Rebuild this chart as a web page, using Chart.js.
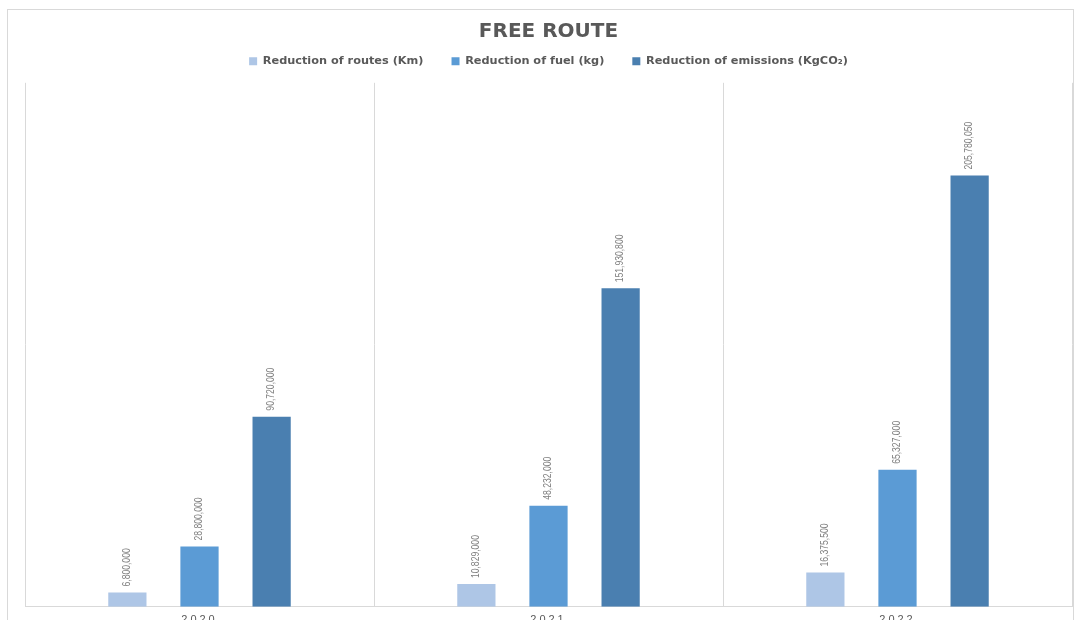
<!DOCTYPE html>
<html>
<head>
<meta charset="utf-8">
<script src="https://cdn.jsdelivr.net/npm/chart.js@4"></script>
<style>
  html, body { margin: 0; padding: 0; background: #fff; overflow: hidden; }
  #box { position: absolute; left: 7px; top: 9px; width: 1065px; height: 640px; border: 1px solid #d9d9d9; }
</style>
</head>
<body>
<div id="box"><canvas id="bar-chart" width="1065" height="640"></canvas></div>
<script>
var anos = ["2020", "2021", "2022"];
var rotas = [6800000, 10829000, 16375500];
var combustivel = [28800000, 48232000, 65327000];
var emissoes = [90720000, 151930800, 205780050];
var nomes = ["Reduction of routes (Km)", "Reduction of fuel (kg)", "Reduction of emissions (KgCO\u2082)"];
var cores = ["#aec6e6", "#5b9bd5", "#4a7fb0"];

var ctx = document.getElementById("bar-chart");

// rotulos verticais em cima das barras + espacamento das letras do eixo x
var rotulos = {
    id: "rotulos",
    afterDatasetsDraw: function(chart){
        var c = chart.ctx;
        c.save();
        c.fillStyle = "#7f7f7f";
        c.font = "10px 'Liberation Sans', sans-serif";
        c.textAlign = "left";
        c.textBaseline = "middle";
        chart.data.datasets.forEach(function(ds, i){
            chart.getDatasetMeta(i).data.forEach(function(bar, j){
                c.save();
                c.translate(bar.x, bar.y - 6);
                c.rotate(-Math.PI/2);
                c.scale(0.86, 1);
                c.fillText(ds.data[j].toLocaleString("en-US"), 0, 0);
                c.restore();
            });
        });
        c.restore();
        c.letterSpacing = "3px";
    },
    afterDraw: function(chart){
        chart.ctx.letterSpacing = "0px";
    }
};

var chart = new Chart(ctx, {
    type: "bar",
    data: {
        labels: anos,
        datasets: [
            { label: nomes[0], data: rotas, backgroundColor: cores[0], borderWidth: 0 },
            { label: nomes[1], data: combustivel, backgroundColor: cores[1], borderWidth: 0 },
            { label: nomes[2], data: emissoes, backgroundColor: cores[2], borderWidth: 0 }
        ]
    },
    options: {
        responsive: false,
        animation: false,
        categoryPercentage: 0.62,
        barPercentage: 0.53,
        layout: { padding: { left: 17, right: 1, top: 0, bottom: 16 } },
        plugins: {
            tooltip: { enabled: false },
            title: {
                display: true,
                text: "FREE ROUTE",
                color: "#595959",
                font: { family: "'DejaVu Sans', sans-serif", size: 20, weight: "bold" },
                padding: { top: 10, bottom: -16.5 }
            },
            legend: {
                labels: {
                    boxWidth: 8,
                    boxHeight: 8,
                    padding: 28,
                    color: "#595959",
                    font: { family: "'DejaVu Sans', sans-serif", size: 11.3, weight: "bold" }
                }
            }
        },
        scales: {
            x: {
                grid: { color: "#d9d9d9", drawTicks: false, offset: true },
                border: { color: "#d9d9d9" },
                ticks: { z: 1, color: "#595959", padding: 7, font: { family: "'Liberation Sans', sans-serif", size: 11 } }
            },
            espaco: {
                type: "category",
                position: "top",
                grid: { display: false, drawTicks: false },
                border: { display: false },
                ticks: { display: false },
                afterFit: function(s){ s.height = 6; }
            },
            y: {
                display: false,
                min: 0,
                max: 250000000
            }
        }
    },
    plugins: [rotulos]
});
</script>
</body>
</html>
